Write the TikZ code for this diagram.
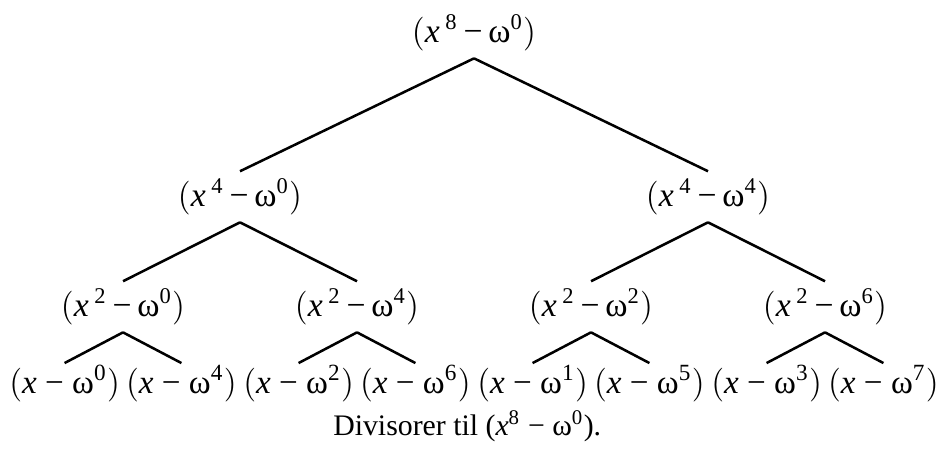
\documentclass[tikz,border=0pt]{standalone}
\usepackage{fontspec}
\setmainfont{Liberation Serif}
\usetikzlibrary{positioning}

\newcommand{\fac}[2]{$\bigl($\textit{x}\,\textsuperscript{#1}\,−\,ω\textsuperscript{#2}$\bigr)$}
\newcommand{\lin}[1]{$\bigl($\textit{x} − ω\textsuperscript{#1}$\bigr)$}

\begin{document}
\begin{tikzpicture}
 [poly node/.style={on grid, inner sep=0pt, minimum height=0.625cm, font=\fontsize{12}{14}\selectfont},
  leaf node/.style={on grid, inner sep=0pt, minimum height=0.5cm, font=\fontsize{11.8}{14}\selectfont},
  branch/.style={line width=0.9pt}]

 \useasboundingbox (0,0) rectangle (11.725,-5.6);

 \node[poly node] (1) at (5.925,-0.41) {\fac{8}{0}};
 \node[poly node] (2) [below left=2.05cm and 2.925cm of 1] {\fac{4}{0}};
 \node[poly node] (3) [below right=2.05cm and 2.925cm of 1] {\fac{4}{4}};

 \node[poly node] (4) [below left=1.375cm and 1.4625cm of 2] {\fac{2}{0}};
 \node[poly node] (5) [below right=1.375cm and 1.4625cm of 2] {\fac{2}{4}};
 \node[poly node] (6) [below left=1.375cm and 1.4625cm of 3] {\fac{2}{2}};
 \node[poly node] (7) [below right=1.375cm and 1.4625cm of 3] {\fac{2}{6}};

 \node[leaf node] (8) [below left=0.96cm and 0.73cm of 4] {\lin{0}};
 \node[leaf node] (9) [below right=0.96cm and 0.73cm of 4] {\lin{4}};
 \node[leaf node] (10) [below left=0.96cm and 0.73cm of 5] {\lin{2}};
 \node[leaf node] (11) [below right=0.96cm and 0.73cm of 5] {\lin{6}};
 \node[leaf node] (12) [below left=0.96cm and 0.73cm of 6] {\lin{1}};
 \node[leaf node] (13) [below right=0.96cm and 0.73cm of 6] {\lin{5}};
 \node[leaf node] (14) [below left=0.96cm and 0.73cm of 7] {\lin{3}};
 \node[leaf node] (15) [below right=0.96cm and 0.73cm of 7] {\lin{7}};

 \node (cap) at (5.84,-5.33) [font=\fontsize{10.6}{13}\selectfont] {Divisorer til (\textit{x}\textsuperscript{8} − ω\textsuperscript{0}).};

\path
  (1.south) edge [branch] (2.north)
  (1.south) edge [branch] (3.north)

  (2.south) edge [branch] (4.north)
  (2.south) edge [branch] (5.north)
  (3.south) edge [branch] (6.north)
  (3.south) edge [branch] (7.north)

  (4.south) edge [branch] (8.north)
  (4.south) edge [branch] (9.north)
  (5.south) edge [branch] (10.north)
  (5.south) edge [branch] (11.north)
  (6.south) edge [branch] (12.north)
  (6.south) edge [branch] (13.north)
  (7.south) edge [branch] (14.north)
  (7.south) edge [branch] (15.north);

\end{tikzpicture}
\end{document}
